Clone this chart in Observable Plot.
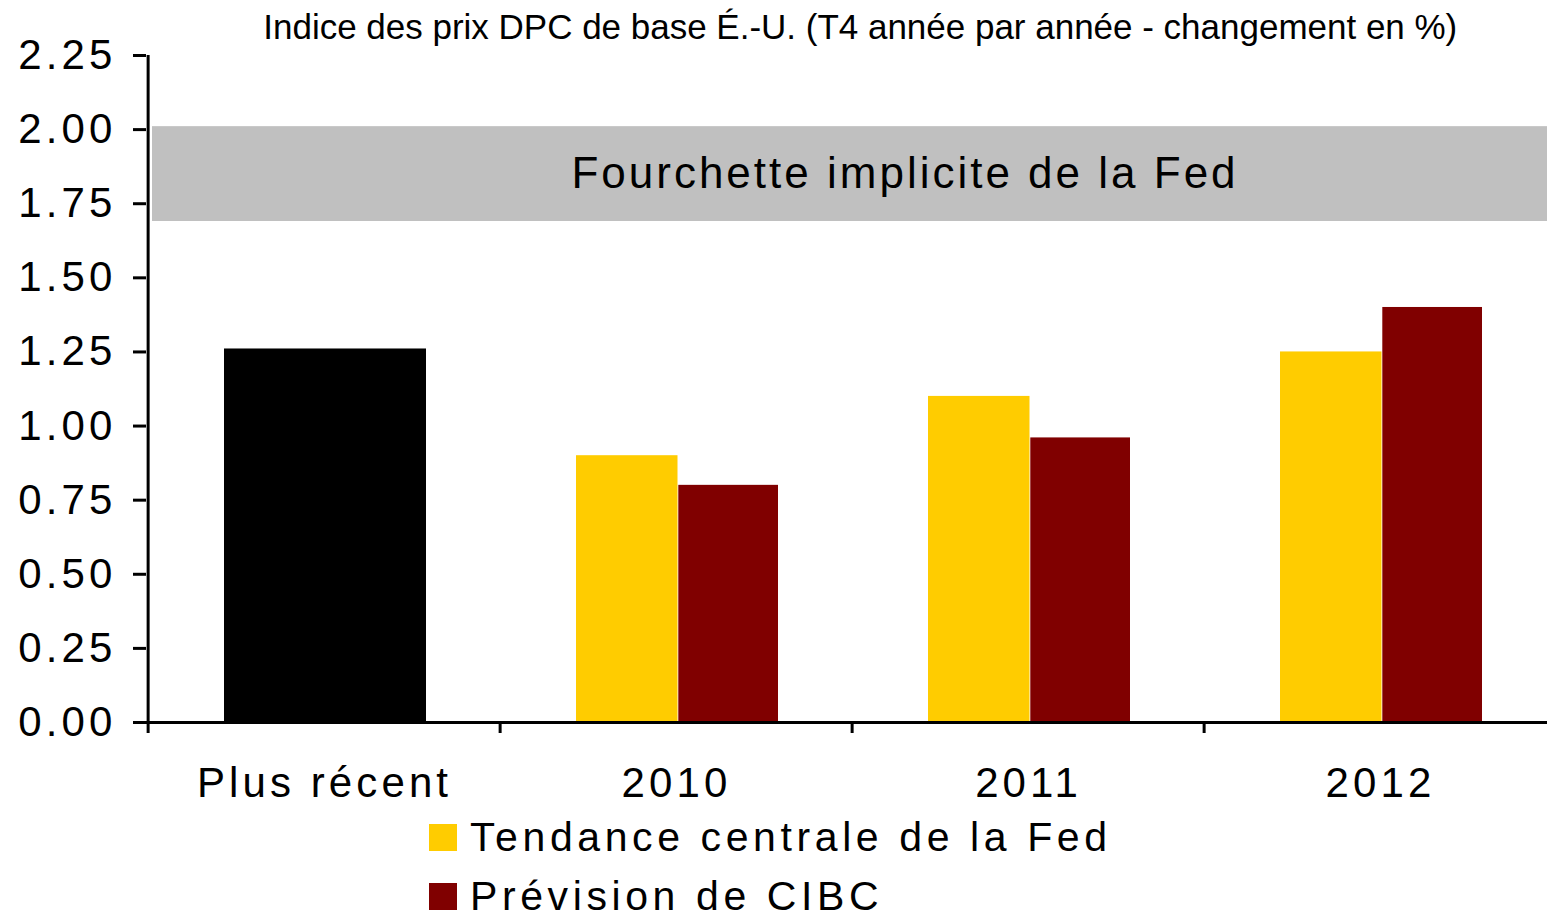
<!DOCTYPE html>
<html>
<head>
<meta charset="utf-8">
<script src="https://cdn.jsdelivr.net/npm/d3@7"></script>
<script src="https://cdn.jsdelivr.net/npm/@observablehq/plot@0.6"></script>
<style>
  html, body { margin: 0; padding: 0; background: white; overflow: hidden; }
  #wrap { position: relative; width: 1547px; height: 916px; }
  #title { position: absolute; left: 0; top: 9px; width: 1720px; text-align: center;
           font-family: "Liberation Sans Narrow", "Arial Narrow", "Liberation Sans", Arial, sans-serif;
           font-size: 35px; line-height: 35px; color: #000; white-space: nowrap; z-index: 2; }
  #title span { display: inline-block; transform-origin: 50% 50%; }
  #chart svg { display: block; }
  #chart g[aria-label="y-axis tick label"] text,
  #chart g[aria-label="x-axis tick label"] text { letter-spacing: 4.1px; }
  #chart g[aria-label="text"] text { letter-spacing: 3px; }
  #legend { position: absolute; left: 429px; top: 808px; font-family: "Liberation Sans", Arial, sans-serif;
            font-size: 41px; letter-spacing: 4.6px; color: #000; }
  .row { display: flex; align-items: center; height: 59px; white-space: nowrap; }
  .sw { width: 28px; height: 27px; margin-right: 13px; flex: none; }
</style>
</head>
<body>
<div id="wrap">
  <div id="title"><span id="titleText"></span></div>
  <div id="chart"></div>
  <div id="legend"></div>
</div>
<script>
// ---- data ----
const titleText = "Indice des prix DPC de base É.-U. (T4 année par année - changement en %)";
const categories = ["Plus récent", "2010", "2011", "2012"];
const latestValue = [1.26];              // Plus récent
const fedYears = ["2010", "2011", "2012"];
const fedValues = [0.90, 1.10, 1.25];    // Tendance centrale de la Fed
const cibcValues = [0.80, 0.96, 1.40];   // Prévision de CIBC
const seriesNames = ["Tendance centrale de la Fed", "Prévision de CIBC"];
const seriesColors = ["#FFCC00", "#800000"];
const latestColor = "#000000";
const bandLow = 1.69, bandHigh = 2.01;
const bandLabel = "Fourchette implicite de la Fed";
const yTicks = [0, 0.25, 0.5, 0.75, 1.0, 1.25, 1.5, 1.75, 2.0, 2.25];

// ---- tables ----
const latestData = [{cat: categories[0], value: latestValue[0]}];
const fedData = fedYears.map((c, i) => ({cat: c, value: fedValues[i]}));
const cibcData = fedYears.map((c, i) => ({cat: c, value: cibcValues[i]}));
const bandData = [{lo: bandLow, hi: bandHigh, label: bandLabel}];

const width = 1547, height = 810, mL = 146, mR = -10;
const bw = (width - mL - mR) / categories.length;

const chart = Plot.plot({
  width, height,
  marginLeft: mL, marginRight: mR, marginTop: 55, marginBottom: 88,
  style: {fontFamily: "'Liberation Sans', Arial, sans-serif", background: "white", color: "black"},
  x: {type: "band", domain: categories, padding: 0},
  y: {domain: [0, 2.25]},
  marks: [
    Plot.rect(bandData, {y1: "lo", y2: "hi", fill: "#C0C0C0", insetLeft: 6}),
    Plot.text(bandData, {y: d => (d.lo + d.hi) / 2, text: "label", frameAnchor: "middle", dx: 53,
                         fontSize: 44, fill: "black"}),
    Plot.barY(latestData, {x: "cat", y: "value", fill: latestColor, insetLeft: 76, insetRight: 74}),
    Plot.barY(fedData, {x: "cat", y: "value", fill: seriesColors[0], insetLeft: 76, insetRight: 174.5}),
    Plot.barY(cibcData, {x: "cat", y: "value", fill: seriesColors[1], insetLeft: 178.3, insetRight: 74}),
    Plot.ruleY([0], {stroke: "black", strokeWidth: 3}),
    Plot.ruleX([categories[0]], {x: d => d, y1: 0, y2: 2.25, dx: -bw / 2, stroke: "black", strokeWidth: 3}),
    Plot.axisY({ticks: yTicks, tickFormat: d3.format(".2f"), tickSize: 13, tickPadding: 17,
                fontSize: 42, strokeWidth: 3, label: null}),
    Plot.axisX({tickSize: 11, tickFormat: () => "", dx: -bw / 2, strokeWidth: 3, label: null}),
    Plot.axisX({tickSize: 0, tickPadding: 45, fontSize: 42, label: null})
  ]
});
document.getElementById("chart").appendChild(chart);

// title, fitted to reference width
const tspan = document.getElementById("titleText");
tspan.textContent = titleText;
const w = tspan.getBoundingClientRect().width;
tspan.style.transform = `scaleX(${1194 / w})`;

// legend
const legend = document.getElementById("legend");
seriesNames.forEach((name, i) => {
  const row = document.createElement("div");
  row.className = "row";
  const sw = document.createElement("div");
  sw.className = "sw";
  sw.style.background = seriesColors[i];
  const label = document.createElement("span");
  label.textContent = name;
  row.appendChild(sw);
  row.appendChild(label);
  legend.appendChild(row);
});
</script>
</body>
</html>
